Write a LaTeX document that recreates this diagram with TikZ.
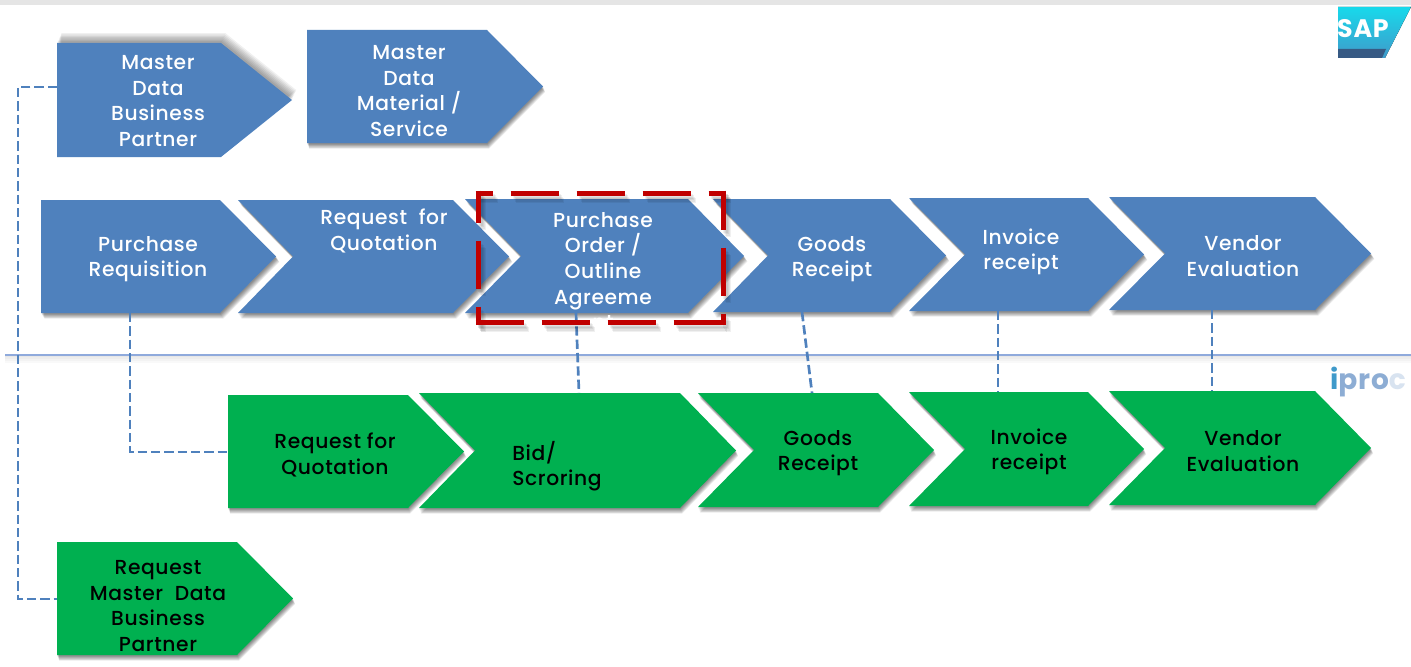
\documentclass[tikz,border=0pt]{standalone}
\usepackage{fontspec}
\setmainfont[LetterSpace=3,UprightFont=* Medium,BoldFont=* Bold]{Poppins}
\usetikzlibrary{calc}
\definecolor{chblue}{HTML}{4F81BD}
\definecolor{chgreen}{HTML}{00B050}
\definecolor{boxred}{HTML}{C00000}
\definecolor{rulec}{HTML}{8FAADC}
\tikzset{
  x=0.75pt,y=-0.75pt,
  bluechev/.style={fill=chblue},
  greenchev/.style={fill=chgreen},
  lbl/.style={align=center,inner sep=0pt,font=\fontsize{15.2}{19.2}\selectfont},
  wlbl/.style={lbl,text=white},
  blbl/.style={lbl,text=black},
  conn/.style={draw=chblue,line width=2pt,dash pattern=on 7pt off 3pt},
  redside/.style={line width=3.75pt,dash pattern=on 36pt off 13.5pt},
  anchorbox/.style={inner sep=0pt,outer sep=0pt,draw=none,fill=none},
}
% name, left, notch (= left if flat), body end, tip, top, bottom, style, shadow dx
\newcommand{\chev}[9]{%
  \pgfmathsetmacro{\cmidx}{(#2+#5)/2}%
  \pgfmathsetmacro{\cmidy}{(#6+#7)/2}%
  \pgfmathsetmacro{\cwid}{(#5-#2)*0.75}%
  \pgfmathsetmacro{\chei}{(#7-#6)*0.75}%
  \node[anchorbox,minimum width=\cwid pt,minimum height=\chei pt] (#1) at (\cmidx,\cmidy) {};%
  \foreach \k in {0.2,0.35,0.5,0.65,0.8,0.95,1.1}{%
    \fill[black,opacity=\shadowop,shift={(\k*#9,\k*\shadowdy)}] (#2,#6) -- (#4,#6) -- (#5,\cmidy) -- (#4,#7) -- (#2,#7) -- (#3,\cmidy) -- cycle;
  }%
  \fill[#8] (#2,#6) -- (#4,#6) -- (#5,\cmidy) -- (#4,#7) -- (#2,#7) -- (#3,\cmidy) -- cycle;%
}
\def\shadowdy{5}
\def\shadowop{0.08}
\newcommand{\redframe}[1]{%
  \draw[redside,#1,dash phase=0pt] (475.5,322) -- (725.5,322);
  \draw[redside,#1,dash phase=23.25pt] (475.5,193) -- (725.5,193);
  \draw[redside,#1,dash phase=12pt] (478,190.5) -- (478,324.5);
  \draw[redside,#1,dash phase=6.75pt] (723,190.5) -- (723,324.5);
}
\begin{document}
\begin{tikzpicture}
\useasboundingbox (0,0) rectangle (1411,667);
\fill[white] (0,0) rectangle (1411,667);
% top rule and separator
\fill[black!10] (0,0) rectangle (1411,5);
\foreach \k in {1,2,3,4}{\fill[black,opacity=0.025] (5,355) rectangle (1411,355+\k*2);}
\draw[rulec,line width=0.9pt] (5,355) -- (1411,355);
% shapes
\def\shadowdy{-9}\def\shadowop{0.06}
\chev{mdbp}{57}{57}{221}{292}{43}{157}{bluechev}{4}
\def\shadowdy{5}\def\shadowop{0.08}
\chev{mdms}{307}{307}{487}{543}{30}{143}{bluechev}{2}
\chev{pr}{41}{41}{220}{276}{200}{313}{bluechev}{3}
\chev{rfq}{238}{293}{453}{509}{200}{313}{bluechev}{3}
\chev{po}{465}{521}{688}{744}{199}{313}{bluechev}{3}
\chev{gr}{713}{768}{890}{946}{199}{312}{bluechev}{3}
\chev{inv}{909}{965}{1088}{1144}{198}{311}{bluechev}{3}
\chev{ve}{1109}{1165}{1315}{1371}{197}{310}{bluechev}{3}
\chev{grfq}{228}{228}{408}{464}{395}{508}{greenchev}{2}
\chev{bid}{419}{475}{680}{736}{393}{508}{greenchev}{2}
\chev{ggr}{698}{754}{878}{934}{393}{507}{greenchev}{2}
\chev{ginv}{909}{965}{1088}{1144}{392}{506}{greenchev}{2}
\chev{gve}{1109}{1165}{1315}{1371}{391}{505}{greenchev}{2}
\chev{rmd}{57}{57}{237}{293}{542}{655}{greenchev}{2}
% connectors
\draw[conn] ($(mdbp.north west)+(0,44)$) -| (18,300) |- ($(rmd.north west)+(0,57)$);
\draw[conn] ($(pr.south west)+(89,0)$) |- ($(grfq.north west)+(0,57)$);
\draw[conn] ($(po.south west)+(111,0)$) -- ($(bid.north west)+(160,0)$);
\draw[conn] ($(gr.south west)+(89,0)$) -- ($(ggr.north west)+(114,0)$);
\draw[conn] ($(inv.south west)+(89,0)$) -- ($(ginv.north west)+(89,0)$);
\draw[conn] ($(ve.south west)+(103,0)$) -- ($(gve.north west)+(103,0)$);
% labels
\node[wlbl] (t-mdbp) at (158,101) {Master\\Data\\Business\\Partner};
\node[wlbl] (t-mdms) at (409,91) {Master\\Data\\Material /\\Service};
\node[wlbl] (t-pr) at (148,259) {Purchase\\Requisition};
\node[wlbl] (t-rfq) at (384,231) {Request\ \ for\\Quotation};
\node[wlbl] (t-po) at (603,271) {Purchase\\Order /\\Outline\\Agreeme\\nt};
\node[wlbl] (t-gr) at (832,259) {Goods\\Receipt};
\node[wlbl] (t-inv) at (1021,252) {Invoice\\receipt};
\node[wlbl] (t-ve) at (1243,256) {Vendor\\Evaluation};
\node[blbl] (t-grfq) at (335,455) {Request for\\Quotation};
\node[blbl,align=left] (t-bid) at (557,466) {Bid/\\Scroring};
\node[blbl] (t-ggr) at (818,453) {Goods\\Receipt};
\node[blbl] (t-ginv) at (1029,452) {Invoice\\receipt};
\node[blbl] (t-gve) at (1243,451) {Vendor\\Evaluation};
\node[blbl] (t-rmd) at (158,606) {Request\\Master\ \ Data\\Business\\Partner};
% red dashed frame
\foreach \k in {2,3,4,5}{\begin{scope}[shift={(\k,\k*1.5)}]\redframe{black,opacity=0.06}\end{scope}}
\redframe{boxred}
% SAP logo
\fill[top color=cyan!70!chblue,bottom color=chblue!80!cyan] (1338,7) -- (1411,7) -- (1385,58) -- (1338,58) -- cycle;
\fill[chblue!70!black] (1338,49) -- (1386,49) -- (1382,58) -- (1338,58) -- cycle;
\node[inner sep=0pt,text=white,font=\fontsize{19}{19}\selectfont\bfseries] (sap) at (1363,29) {SAP};
% iproc logo
\node[inner sep=0pt,font=\fontsize{21}{21}\selectfont\bfseries] (iproc) at (1368,382)
  {\textcolor{chblue!80!cyan}{i}\textcolor{chblue!65!white}{pro}\textcolor{chblue!22!white}{c}};
\end{tikzpicture}
\end{document}
